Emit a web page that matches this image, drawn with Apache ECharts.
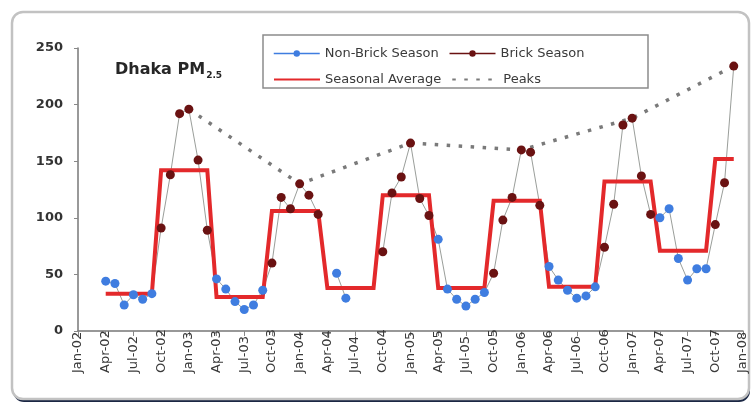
<!DOCTYPE html>
<html>
<head>
<meta charset="utf-8">
<script src="https://cdn.jsdelivr.net/npm/echarts@6/dist/echarts.min.js"></script>
<style>
  html, body { margin: 0; padding: 0; background: #ffffff; }
  #chart { width: 754px; height: 408px; }
</style>
</head>
<body>
<div id="chart"></div>
<script>
// Monthly PM2.5 (µg/m³), Dhaka, Jan-2002 .. Jan-2008 — one row per year (Jan..Dec)
const monthNames = ['Jan','Feb','Mar','Apr','May','Jun','Jul','Aug','Sep','Oct','Nov','Dec'];
const years = ['02','03','04','05','06','07','08'];

// Non-brick season (Apr–Sep) monthly means
const nonBrick = [
  null, null, null,  44,  42,  23,  32,  28,  33, null, null, null,
  null, null, null,  46,  37,  26,  19,  23,  36, null, null, null,
  null, null, null, null,  51,  29, null, null, null, null, null, null,
  null, null, null,  81,  37,  28,  22,  28,  34, null, null, null,
  null, null, null,  57,  45,  36,  29,  31,  39, null, null, null,
  null, null, null, 100, 108,  64,  45,  55,  55, null, null, null,
  null
];

// Brick-kiln season (Oct–Mar) monthly means
const brick = [
  null, null, null, null, null, null, null, null, null,  91, 138, 192,
   196,  151,   89, null, null, null, null, null, null,  60, 118, 108,
   130,  120,  103, null, null, null, null, null, null,  70, 122, 136,
   166,  117,  102, null, null, null, null, null, null,  51,  98, 118,
   160,  158,  111, null, null, null, null, null, null,  74, 112, 182,
   188,  137,  103, null, null, null, null, null, null,  94, 131, 234,
  null
];

// Season averages held across each season's months
const seasonalAvg = [
  null, null, null,  33,  33,  33,  33,  33,  33, 142, 142, 142,
   142,  142,  142,  30,  30,  30,  30,  30,  30, 106, 106, 106,
   106,  106,  106,  38,  38,  38,  38,  38,  38, 120, 120, 120,
   120,  120,  120,  38,  38,  38,  38,  38,  38, 115, 115, 115,
   115,  115,  115,  39,  39,  39,  39,  39,  39, 132, 132, 132,
   132,  132,  132,  71,  71,  71,  71,  71,  71, 152, 152, 152,
  null
];

// Peak month of each brick season
const peaks = [
  null, null, null, null, null, null, null, null, null, null, null, null,
   196, null, null, null, null, null, null, null, null, null, null, null,
   130, null, null, null, null, null, null, null, null, null, null, null,
   166, null, null, null, null, null, null, null, null, null, null, null,
   160, null, null, null, null, null, null, null, null, null, null, null,
   188, null, null, null, null, null, null, null, null, null, null, 234,
  null
];

const yTicks = { min: 0, max: 250, interval: 50 };

// Category labels "Jan-02" .. "Jan-08"
const categories = [];
years.forEach(function (y, yi) {
  monthNames.forEach(function (m, mi) {
    if (yi < years.length - 1 || mi === 0) categories.push(m + '-' + y);
  });
});

// Continuous record used for the thin joining line
const allMonths = nonBrick.map(function (v, i) { return v != null ? v : brick[i]; });

const FONT = 'DejaVu Sans';
const BLUE = '#3f7de0';
const MAROON = '#6a1212';
const RED = '#e3292b';
const LINK = '#9a9e9a';

const chart = echarts.init(document.getElementById('chart'), null, { renderer: 'canvas' });

const legendText = { fontFamily: FONT, fontSize: 13, color: '#3a3a3a', width: 140 };

chart.setOption({
  animation: false,
  backgroundColor: '#ffffff',
  graphic: [
    // card: dark edge underneath, then the white panel with a grey rim
    {
      type: 'rect', z: -11, silent: true,
      shape: { x: 13, y: 15, width: 737, height: 387, r: 11 },
      style: { fill: '#1b2744' }
    },
    {
      type: 'rect', z: -10, silent: true,
      shape: { x: 12, y: 12, width: 737, height: 387, r: 11 },
      style: { fill: '#ffffff', stroke: '#c2c2c2', lineWidth: 2.5 }
    },
    // legend frame
    {
      type: 'rect', z: 1, silent: true,
      shape: { x: 263, y: 35, width: 385, height: 53 },
      style: { fill: '#ffffff', stroke: '#8c8c8c', lineWidth: 1.5 }
    }
  ],
  title: {
    left: 110, top: 55,
    text: '{a|Dhaka PM}{b|2.5}',
    textStyle: {
      rich: {
        a: { fontFamily: FONT, fontSize: 16, fontWeight: 'bold', color: '#262626', lineHeight: 20 },
        b: { fontFamily: FONT, fontSize: 9, fontWeight: 'bold', color: '#262626', lineHeight: 9,
             verticalAlign: 'bottom', padding: [6, 0, 0, 1] }
      }
    }
  },
  legend: [
    {
      left: 268, top: 42, itemWidth: 46, itemHeight: 8, itemGap: 10,
      selectedMode: false,
      textStyle: legendText,
      data: [
        { name: 'Non-Brick Season', lineStyle: { color: BLUE, width: 1.5, opacity: 1 } },
        { name: 'Brick Season', lineStyle: { color: MAROON, width: 1.5, opacity: 1 } }
      ]
    },
    {
      left: 268, top: 68, itemWidth: 46, itemHeight: 8, itemGap: 10,
      selectedMode: false,
      textStyle: legendText,
      data: [
        { name: 'Seasonal Average', itemStyle: { opacity: 0 } },
        { name: 'Peaks', itemStyle: { opacity: 0 } }
      ]
    }
  ],
  grid: { left: 78, right: 11, top: 48, bottom: 77 },
  xAxis: {
    type: 'category',
    data: categories,
    boundaryGap: false,
    axisLine: { lineStyle: { color: '#777777', width: 1.5 } },
    axisTick: { interval: 2, length: 5, lineStyle: { color: '#888888' } },
    axisLabel: {
      interval: 2, rotate: 90, align: 'left', verticalAlign: 'middle', margin: 42,
      fontFamily: FONT, fontSize: 13, color: '#3a3a3a'
    },
    splitLine: { show: false }
  },
  yAxis: {
    type: 'value',
    min: yTicks.min, max: yTicks.max, interval: yTicks.interval,
    axisLine: { show: true, lineStyle: { color: '#777777', width: 1.5 } },
    axisTick: { show: true, length: 4, lineStyle: { color: '#888888' } },
    axisLabel: { margin: 15, fontFamily: FONT, fontSize: 13, fontWeight: 'bold', color: '#333333' },
    splitLine: { show: false }
  },
  series: [
    {
      name: 'link', type: 'line', data: allMonths, z: 2, silent: true,
      showSymbol: false, symbol: 'none', connectNulls: false,
      lineStyle: { color: LINK, width: 1 }
    },
    {
      name: 'Seasonal Average', type: 'line', data: seasonalAvg, z: 3,
      symbol: 'none', connectNulls: false,
      itemStyle: { color: RED },
      lineStyle: { color: RED, width: 4, join: 'miter' }
    },
    {
      name: 'Peaks', type: 'line', data: peaks, z: 3,
      symbol: 'none', connectNulls: true,
      itemStyle: { color: '#7a7a7a' },
      lineStyle: { color: '#7a7a7a', width: 3.5, type: [3.5, 8.5], cap: 'butt' }
    },
    {
      name: 'Non-Brick Season', type: 'line', data: nonBrick, z: 5,
      symbol: 'circle', symbolSize: 9, showAllSymbol: true, connectNulls: false,
      itemStyle: { color: BLUE },
      lineStyle: { opacity: 0 }
    },
    {
      name: 'Brick Season', type: 'line', data: brick, z: 5,
      symbol: 'circle', symbolSize: 9, showAllSymbol: true, connectNulls: false,
      itemStyle: { color: MAROON },
      lineStyle: { opacity: 0 }
    }
  ]
});
</script>
</body>
</html>
